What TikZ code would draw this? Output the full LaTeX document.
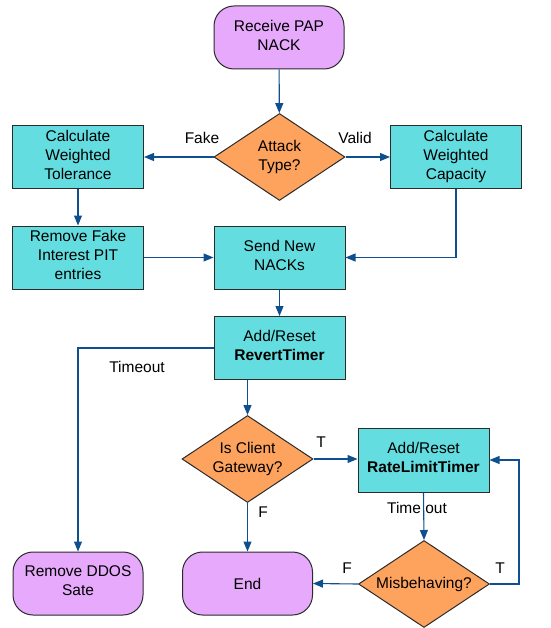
\documentclass[tikz,border=0pt]{standalone}
\usepackage{fontspec}
\setmainfont{Liberation Sans}
\usetikzlibrary{shapes.geometric,arrows.meta}
\definecolor{termfill}{HTML}{E6A9FB}
\definecolor{procfill}{HTML}{63DDE0}
\definecolor{decfill}{HTML}{FEA35E}
\definecolor{arrowblue}{HTML}{0D4F8F}
\definecolor{edgegray}{HTML}{2B2B2B}
\begin{document}
\begin{tikzpicture}[x=1pt,y=-1pt,
  base/.style={draw=edgegray, line width=1pt, align=center, inner sep=0pt,
    font=\fontsize{15.5}{19}\selectfont},
  boxtext/.style={execute at begin node=\rule{0pt}{16.2pt}, execute at end node=\rule[-5pt]{0pt}{5pt}},
  term/.style={base, boxtext, fill=termfill, rounded corners=20pt, minimum width=130pt, minimum height=63pt},
  proc/.style={base, boxtext, fill=procfill, minimum width=131pt, minimum height=63pt},
  dec/.style={base, fill=decfill, shape=diamond, aspect=1.5, minimum width=131pt, minimum height=87pt},
  conn/.style={draw=arrowblue, line width=1.1pt, -{Triangle[length=10pt,width=8pt]}},
  lbl/.style={font=\fontsize{15.5}{19}\selectfont, inner sep=0pt}
]
\useasboundingbox (0,0) rectangle (550,628);

\node[term] (recv) at (279,37.5) {Receive PAP\\NACK};
\node[dec] (attack) at (279.5,157) {Attack\\Type?};
\node[proc] (tol) at (78,157) {Calculate\\Weighted\\Tolerance};
\node[proc] (cap) at (456,157) {Calculate\\Weighted\\Capacity};
\node[proc] (rmf) at (78,257.5) {Remove Fake\\Interest PIT\\entries};
\node[proc] (send) at (279.5,257.5) {Send New\\NACKs};
\node[proc] (revert) at (279.5,348) {Add/Reset\\\textbf{RevertTimer}};
\node[dec] (gw) at (247.5,459) {Is Client\\Gateway?};
\node[proc, minimum height=64pt] (rlt) at (423.5,460) {Add/Reset\\\textbf{RateLimitTimer}};
\node[dec] (mis) at (424,584) {Misbehaving?};
\node[term] (end) at (247.5,583.5) {End};
\node[term] (ddos) at (78,583.5) {Remove DDOS\\Sate};

\coordinate (loop) at (519,584);

\draw[conn] (recv) -- (attack);
\draw[conn] (attack.west) -- (tol.east);
\draw[conn] (attack.east) -- (cap.west);
\draw[conn] (tol) -- (rmf);
\draw[conn] (rmf) -- (send);
\draw[conn] (cap.south) |- (send.east);
\draw[conn] (send) -- (revert);
\draw[conn] (revert.west) -| (ddos.north);
\draw[conn] (gw.north |- revert.south) -- (gw.north);
\draw[conn] (gw.east) -- (gw.east -| rlt.west);
\draw[conn] (gw.south) -- (end.north);
\draw[conn] (rlt.south) -- (mis.north);
\draw[conn] (mis.west) -- (end.east);
\draw[conn] (mis.east) -- (loop) |- (rlt.east);

\node[lbl] (lfake) at (202,138) {Fake};
\node[lbl] (lvalid) at (355,138) {Valid};
\node[lbl] (ltimeout) at (137,367) {Timeout};
\node[lbl] (lgt) at (321,442) {T};
\node[lbl] (lgf) at (263,512) {F};
\node[lbl] (ltime) at (417,508) {Time out};
\node[lbl] (lmf) at (347,568) {F};
\node[lbl] (lmt) at (500,568) {T};
\end{tikzpicture}
\end{document}
